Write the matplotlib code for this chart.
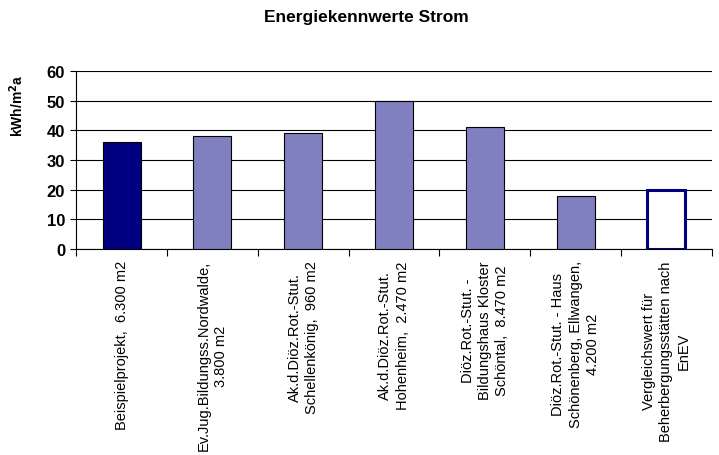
import numpy as np
import matplotlib.pyplot as plt
from matplotlib.ticker import FixedLocator, NullFormatter

plt.rcParams['font.family'] = ['Liberation Sans', 'DejaVu Sans']

# Kennwerte Strom in kWh/m²a
kategorien = [
    'Beispielprojekt,  6.300 m2',
    'Ev.Jug.Bildungss.Nordwalde,\n3.800 m2',
    'Ak.d.Diöz.Rot.-Stut.\nSchellenkönig,  960 m2',
    'Ak.d.Diöz.Rot.-Stut.\nHohenheim,  2.470 m2',
    'Diöz.Rot.-Stut. -\nBildungshaus Kloster\nSchöntal,  8.470 m2',
    'Diöz.Rot.-Stut. - Haus\nSchönenberg, Ellwangen,\n4.200 m2',
    'Vergleichswert für\nBeherbergungsstätten nach\nEnEV',
]
werte = [36, 38, 39, 50, 41, 18, 20]
y_ticks = [0, 10, 20, 30, 40, 50, 60]

fig = plt.figure(figsize=(7.19, 4.56), dpi=100)
ax = fig.add_axes([0.106, 0.452, 0.884, 0.390])

x = np.arange(len(werte))
farben = ['#000080'] + ['#8080C0'] * 5 + ['white']
kanten = ['black'] * 6 + ['#000080']
breiten = [0.8] * 6 + [2.2]
for xi, w, fc, ec, lw in zip(x, werte, farben, kanten, breiten):
    ax.bar(xi, w, width=0.42, color=fc, edgecolor=ec, linewidth=lw, zorder=3)

ax.set_xlim(-0.5, len(werte) - 0.5)
ax.set_ylim(0, 60)
ax.set_yticks(y_ticks)
ax.yaxis.grid(True, color='black', linewidth=0.8, zorder=0)
for s in ['top', 'right']:
    ax.spines[s].set_visible(False)
ax.spines['left'].set_linewidth(0.8)
ax.spines['bottom'].set_linewidth(0.8)

# Teilstriche zwischen den Kategorien, Beschriftung in der Mitte
ax.xaxis.set_major_locator(FixedLocator(np.arange(-0.5, len(werte), 1.0)))
ax.xaxis.set_major_formatter(NullFormatter())
ax.tick_params(axis='x', which='major', length=5, width=0.8, direction='out')
ax.tick_params(axis='y', length=4, width=0.8, labelsize=12, pad=4)
for lbl in ax.get_yticklabels():
    lbl.set_fontweight('bold')

for xi, k in zip(x, kategorien):
    ax.text(xi, -3.8, k, rotation=90, ha='center', va='top',
            multialignment='center', fontsize=10.5, linespacing=1.3,
            transform=ax.transData, clip_on=False)

ax.set_ylabel('kWh/m$^\\mathbf{2}$a', fontsize=10, fontweight='bold')
ax.yaxis.set_label_coords(-0.079, 0.81)
fig.text(0.51, 0.962, 'Energiekennwerte Strom', ha='center', va='center',
         fontsize=12.5, fontweight='bold')

fig.savefig('out.png', dpi=100)
